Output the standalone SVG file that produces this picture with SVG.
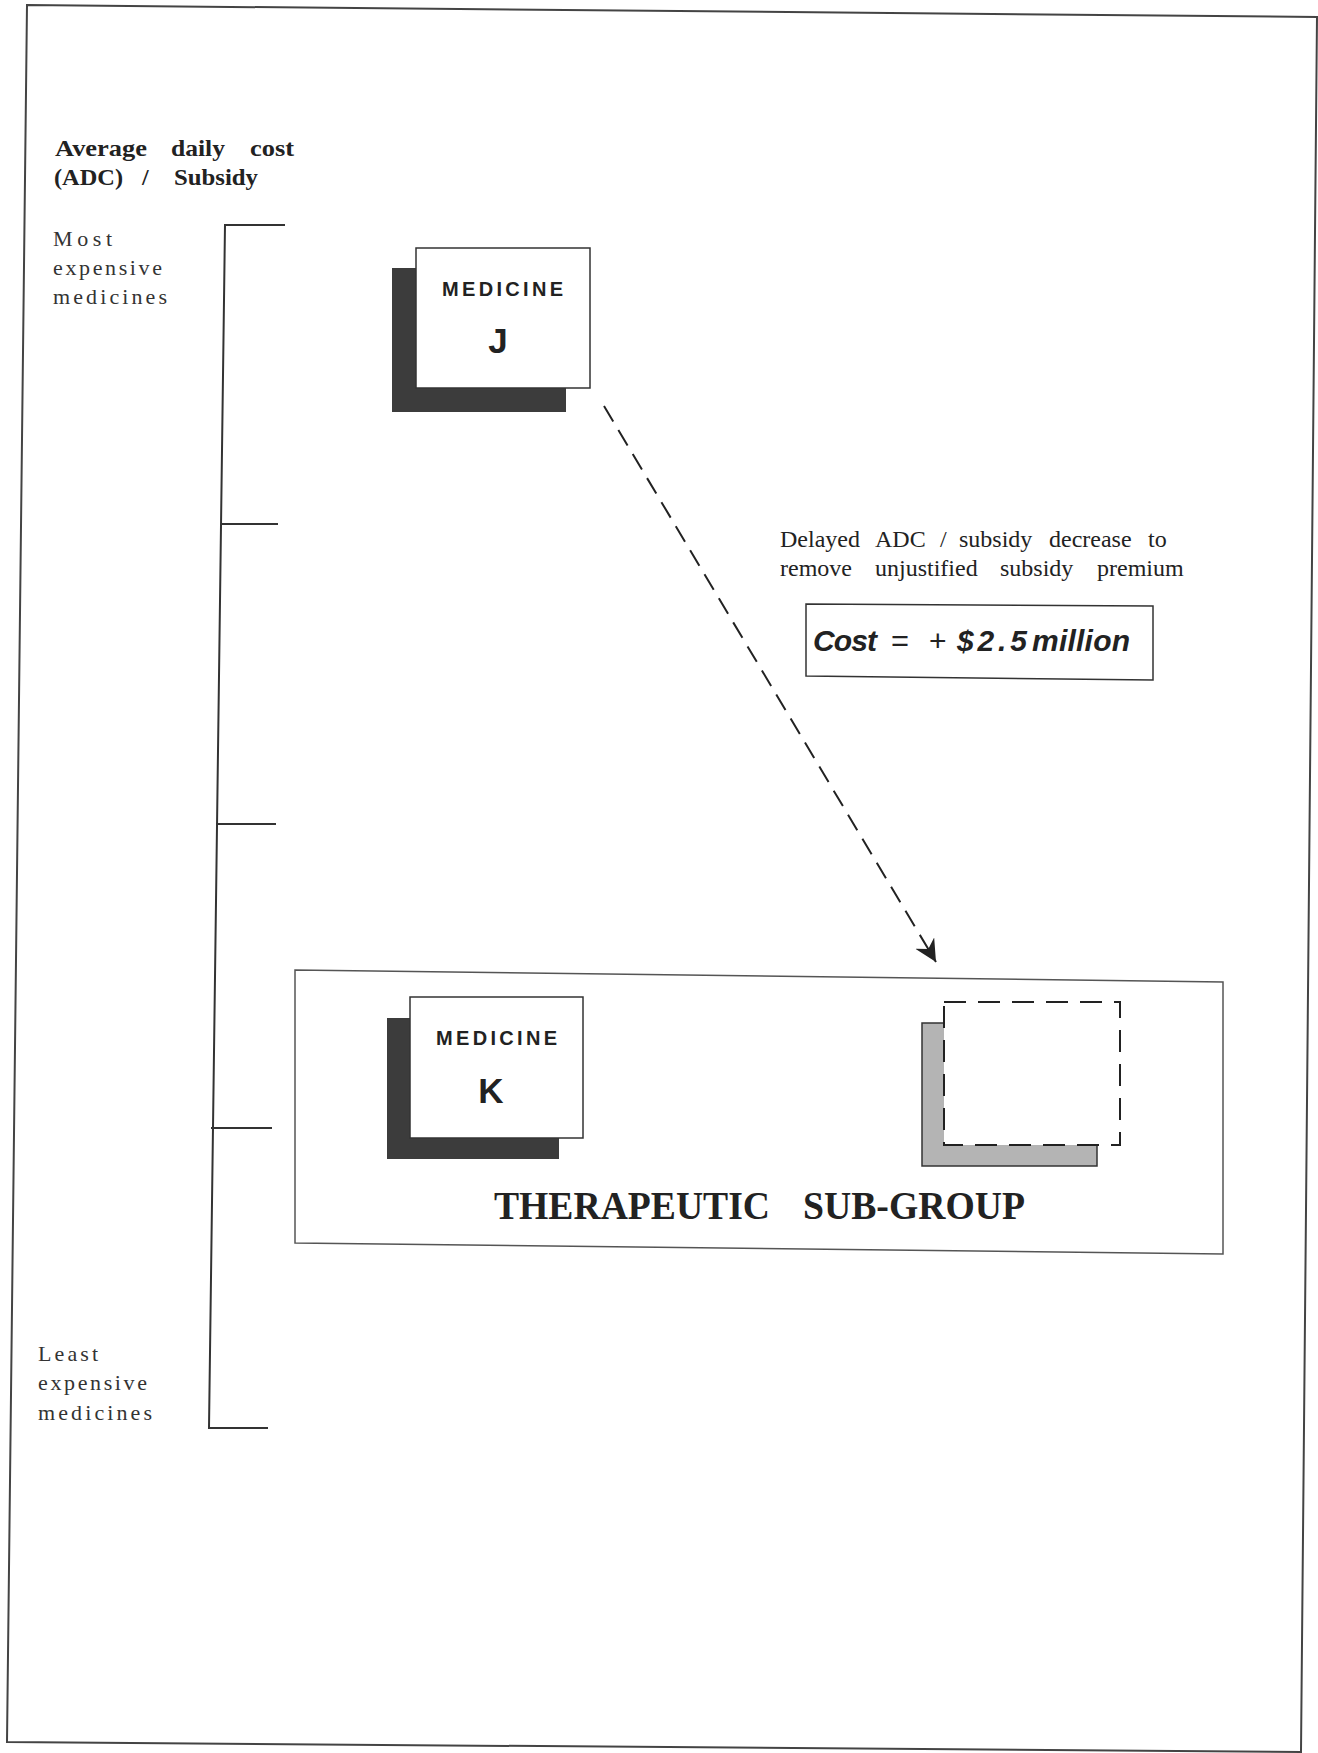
<svg xmlns="http://www.w3.org/2000/svg" width="1318" height="1753" viewBox="0 0 1318 1753">
<defs>
<style>
.ln{stroke:#333;stroke-width:2;fill:none}
.ser{font-family:"Liberation Serif","Times New Roman",serif;fill:#222}
.hdr{font-family:"Liberation Serif","Times New Roman",serif;font-weight:bold;font-size:24px;fill:#222}
.lab{font-family:"Liberation Serif","Times New Roman",serif;font-size:22px;fill:#333}
.ann{font-family:"Liberation Serif","Times New Roman",serif;font-size:24px;fill:#222}
.med{font-family:"Liberation Sans",Arial,sans-serif;font-weight:bold;font-size:20px;fill:#222}
.let{font-family:"Liberation Sans",Arial,sans-serif;font-weight:bold;font-size:35px;fill:#222}
.shadow{fill:#3c3c3c}
.card{fill:#fff;stroke:#333;stroke-width:1.5}
.cost{font-family:"Liberation Sans",Arial,sans-serif;font-size:30px;fill:#222}
.bi{font-weight:bold;font-style:italic}
</style>
<marker id="ah" markerWidth="26" markerHeight="26" refX="22" refY="11" orient="auto" markerUnits="userSpaceOnUse">
<path d="M0,0 L22,11 L0,22 L7,11 Z" fill="#222"/>
</marker>
</defs>
<rect width="1318" height="1753" fill="#fff"/>
<polygon points="27,5 1317,17 1301,1752 7,1742" fill="none" stroke="#444" stroke-width="2"/>

<g id="axis-title">
<text class="hdr" y="156"><tspan x="55" textLength="92" lengthAdjust="spacingAndGlyphs">Average</tspan><tspan x="171" textLength="54" lengthAdjust="spacingAndGlyphs">daily</tspan><tspan x="250" textLength="44" lengthAdjust="spacingAndGlyphs">cost</tspan></text>
<text class="hdr" y="185"><tspan x="54" textLength="69" lengthAdjust="spacingAndGlyphs">(ADC)</tspan><tspan x="142">/</tspan><tspan x="174" textLength="84" lengthAdjust="spacingAndGlyphs">Subsidy</tspan></text>
</g>

<g id="axis-top-label">
<text class="lab" x="53" y="246" textLength="59" lengthAdjust="spacing">Most</text>
<text class="lab" x="53" y="275" textLength="109" lengthAdjust="spacing">expensive</text>
<text class="lab" x="53" y="304" textLength="114" lengthAdjust="spacing">medicines</text>
</g>

<g id="axis-bottom-label">
<text class="lab" x="38" y="1361" textLength="60" lengthAdjust="spacing">Least</text>
<text class="lab" x="38" y="1390" textLength="109" lengthAdjust="spacing">expensive</text>
<text class="lab" x="38" y="1420" textLength="114" lengthAdjust="spacing">medicines</text>
</g>

<g id="scale">
<path class="ln" d="M285,225 L225,225 L209,1428 L268,1428"/>
<path class="ln" d="M222,524 L278,524"/>
<path class="ln" d="M216,824 L276,824"/>
<path class="ln" d="M211,1128 L272,1128"/>
</g>

<g id="medicine-j">
<rect class="shadow" x="392" y="268" width="174" height="144"/>
<rect class="card" x="416" y="248" width="174" height="140"/>
<text class="med" x="442" y="296" textLength="121" lengthAdjust="spacing">MEDICINE</text>
<text class="let" x="498" y="353" text-anchor="middle">J</text>
</g>

<g id="annotation">
<text class="ann" y="547"><tspan x="780">Delayed</tspan><tspan x="875">ADC</tspan><tspan x="940">/</tspan><tspan x="959">subsidy</tspan><tspan x="1049">decrease</tspan><tspan x="1148">to</tspan></text>
<text class="ann" y="576"><tspan x="780">remove</tspan><tspan x="875">unjustified</tspan><tspan x="1000">subsidy</tspan><tspan x="1097">premium</tspan></text>
</g>

<g id="cost-box">
<polygon points="806,604 1153,606 1153,680 806,676" fill="#fff" stroke="#333" stroke-width="1.5"/>
<text class="cost" y="651"><tspan class="bi" x="813" textLength="64" lengthAdjust="spacing">Cost</tspan><tspan x="891" textLength="18" lengthAdjust="spacingAndGlyphs">=</tspan><tspan x="929">+</tspan><tspan class="bi" x="957" textLength="70" lengthAdjust="spacing">$2.5</tspan><tspan class="bi" x="1032" textLength="98" lengthAdjust="spacing">million</tspan></text>
</g>

<g id="sub-group">
<polygon points="295,970 1223,982 1223,1254 295,1243" fill="none" stroke="#555" stroke-width="1.5"/>
<text class="ser" x="494" y="1219" font-weight="bold" font-size="40" textLength="276" lengthAdjust="spacingAndGlyphs">THERAPEUTIC</text>
<text class="ser" x="803" y="1219" font-weight="bold" font-size="40" textLength="222" lengthAdjust="spacingAndGlyphs">SUB-GROUP</text>
</g>

<g id="medicine-k">
<rect class="shadow" x="387" y="1018" width="172" height="141"/>
<rect class="card" x="410" y="997" width="173" height="141"/>
<text class="med" x="436" y="1045" textLength="121" lengthAdjust="spacing">MEDICINE</text>
<text class="let" x="491" y="1103" text-anchor="middle">K</text>
</g>

<g id="placeholder">
<rect x="922" y="1023" width="175" height="143" fill="#b4b4b4" stroke="#333" stroke-width="1.5"/>
<rect x="944" y="1002" width="176" height="143" fill="#fff"/>
<rect x="944" y="1002" width="176" height="143" fill="none" stroke="#222" stroke-width="2" stroke-dasharray="22,12"/>
</g>

<g id="connectors">
<line x1="604" y1="406" x2="936" y2="962" stroke="#222" stroke-width="2" stroke-dasharray="18,10" marker-end="url(#ah)"/>
</g>
</svg>
